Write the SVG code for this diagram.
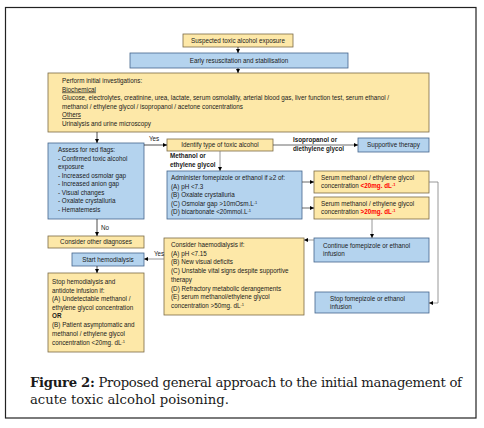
<svg xmlns="http://www.w3.org/2000/svg" width="484" height="428" viewBox="0 0 484 428">
<defs>
<marker id="ah" markerWidth="4" markerHeight="4" refX="4" refY="2" orient="auto" markerUnits="userSpaceOnUse">
<path d="M0,0 L4,2 L0,4 Z" fill="#000"/>
</marker>
<style>
.y{fill:#FDE8A8;stroke:#7A6A45;stroke-width:0.8}
.b{fill:#B4D3EE;stroke:#44658C;stroke-width:0.8}
.t{font-family:"Liberation Sans","Open Sans",sans-serif;font-size:6.3px;fill:#1a1a1a}
.bd{font-weight:bold}
.r{fill:#FF0000;font-weight:bold}
.c{stroke:#7f7f7f;stroke-width:0.8;fill:none;marker-end:url(#ah)}
.cap{font-family:"DejaVu Serif","Liberation Serif",serif;font-size:13.2px;fill:#1a1a1a}
</style>
</defs>
<rect x="0" y="0" width="484" height="428" fill="#fff"/>
<rect x="5.5" y="7.5" width="470.5" height="410.5" fill="none" stroke="#222" stroke-width="1.2"/>

<g id="n-suspected"><rect class="y" x="183" y="34" width="110" height="13"/><text class="t" x="238" y="42.7" text-anchor="middle">Suspected toxic alcohol exposure</text></g>
<g id="n-early"><rect class="b" x="130" y="53" width="218" height="15"/><text class="t" x="239" y="62.7" text-anchor="middle">Early resuscitation and stabilisation</text></g>
<g id="n-invest"><rect class="y" x="48" y="73" width="381" height="59"/>
<text class="t" x="62" y="83">Perform initial investigations:</text>
<text class="t" x="62" y="91.5" text-decoration="underline">Biochemical</text>
<text class="t" x="62" y="100">Glucose, electrolytes, creatinine, urea, lactate, serum osmolality, arterial blood gas, liver function test, serum ethanol /</text>
<text class="t" x="62" y="108.5">methanol / ethylene glycol / isopropanol / acetone concentrations</text>
<text class="t" x="62" y="117" text-decoration="underline">Others</text>
<text class="t" x="62" y="125.5">Urinalysis and urine microscopy</text>
</g>
<g id="n-assess"><rect class="b" x="48" y="143" width="96" height="76"/>
<text class="t" x="58" y="152">Assess for red flags:</text>
<text class="t" x="58" y="160.5">- Confirmed toxic alcohol</text>
<text class="t" x="58" y="169">exposure</text>
<text class="t" x="58" y="177.5">- Increased osmolar gap</text>
<text class="t" x="58" y="186">- Increased anion gap</text>
<text class="t" x="58" y="194.5">- Visual changes</text>
<text class="t" x="58" y="203">- Oxalate crystalluria</text>
<text class="t" x="58" y="211.5">- Hematemesis</text>
</g>
<g id="n-identify"><rect class="y" x="167" y="139" width="106" height="12"/><text class="t" x="220" y="147.2" text-anchor="middle">Identify type of toxic alcohol</text></g>
<g id="n-supportive"><rect class="b" x="358" y="138" width="71" height="14"/><text class="t" x="393.5" y="147.2" text-anchor="middle">Supportive therapy</text></g>
<g id="n-administer"><rect class="b" x="167" y="171" width="135" height="48"/>
<text class="t" x="171" y="180">Administer fomepizole or ethanol if ≥2 of:</text>
<text class="t" x="171" y="188.5">(A) pH &lt;7.3</text>
<text class="t" x="171" y="197">(B) Oxalate crystalluria</text>
<text class="t" x="171" y="205.5">(C) Osmolar gap &gt;10mOsm.L<tspan dy="-2" font-size="4">-1</tspan></text>
<text class="t" x="171" y="214">(D) bicarbonate &lt;20mmol.L<tspan dy="-2" font-size="4">-1</tspan></text>
</g>
<g id="n-serum-low"><rect class="y" x="314" y="171" width="115" height="22"/>
<text class="t" x="321" y="179.5">Serum methanol / ethylene glycol</text>
<text class="t" x="321" y="188">concentration <tspan class="r">&lt;20mg. dL<tspan dy="-2" font-size="4">-1</tspan></tspan></text>
</g>
<g id="n-serum-high"><rect class="y" x="314" y="197" width="115" height="22"/>
<text class="t" x="321" y="205.5">Serum methanol / ethylene glycol</text>
<text class="t" x="321" y="214">concentration <tspan class="r">&gt;20mg. dL<tspan dy="-2" font-size="4">-1</tspan></tspan></text>
</g>
<g id="n-other"><rect class="y" x="48" y="236" width="96" height="12"/><text class="t" x="96" y="244.2" text-anchor="middle">Consider other diagnoses</text></g>
<g id="n-continue"><rect class="b" x="314" y="238" width="115" height="24"/>
<text class="t" x="323" y="247.5">Continue fomepizole or ethanol</text>
<text class="t" x="323" y="256">infusion</text>
</g>
<g id="n-haemo"><rect class="y" x="164" y="238" width="140" height="77"/>
<text class="t" x="171" y="247">Consider haemodialysis if:</text>
<text class="t" x="171" y="255.7">(A) pH &lt;7.15</text>
<text class="t" x="171" y="264.4">(B) New visual deficits</text>
<text class="t" x="171" y="273.1">(C) Unstable vital signs despite supportive</text>
<text class="t" x="171" y="281.8">therapy</text>
<text class="t" x="171" y="290.5">(D) Refractory metabolic derangements</text>
<text class="t" x="171" y="299.2">(E) serum methanol/ethylene glycol</text>
<text class="t" x="171" y="307.9">concentration &gt;50mg. dL<tspan dy="-2" font-size="4">-1</tspan></text>
</g>
<g id="n-start"><rect class="b" x="72" y="253" width="72" height="13"/><text class="t" x="108" y="261.7" text-anchor="middle">Start hemodialysis</text></g>
<g id="n-stophd"><rect class="y" x="48" y="273" width="96" height="79"/>
<text class="t" x="52" y="284">Stop hemodialysis and</text>
<text class="t" x="52" y="292.5">antidote infusion if:</text>
<text class="t" x="52" y="301">(A) Undetectable methanol /</text>
<text class="t" x="52" y="309.5">ethylene glycol concentration</text>
<text class="t bd" x="52" y="318">OR</text>
<text class="t" x="52" y="327">(B) Patient asymptomatic and</text>
<text class="t" x="52" y="335.5">methanol / ethylene glycol</text>
<text class="t" x="52" y="344.5">concentration &lt;20mg. dL<tspan dy="-2" font-size="4">-1</tspan></text>
</g>
<g id="n-stopfom"><rect class="b" x="315" y="292" width="114" height="21"/>
<text class="t" x="330" y="300.5">Stop fomepizole or ethanol</text>
<text class="t" x="330" y="309">infusion</text>
</g>

<g id="connectors">
<path class="c" d="M238,47 V53" style="stroke:#222"/>
<path class="c" d="M238,68 V73" style="stroke:#222"/>
<path class="c" d="M97,132 V143" style="stroke:#222"/>
<path class="c" d="M144,145 H167" style="stroke:#222"/>
<path class="c" d="M220,151 V171"/>
<path class="c" d="M273,145 H358" style="stroke:#444"/>
<path class="c" d="M302,182 H314" style="stroke:#444"/>
<path class="c" d="M302,208 H314" style="stroke:#444"/>
<path class="c" d="M372,219 V238"/>
<path class="c" d="M429,182 H438 V303 H429"/>
<path class="c" d="M314,240 H304"/>
<path class="c" d="M97,219 V236" style="stroke:#222"/>
<path class="c" d="M164,259 H144"/>
<path class="c" d="M97,266 V273" style="stroke:#222"/>
<text class="t" x="149" y="141" font-size="5px">Yes</text>
<text class="t bd" x="170" y="158">Methanol or</text>
<text class="t bd" x="170" y="167">ethylene glycol</text>
<text class="t bd" x="293" y="142">Isopropanol or</text>
<text class="t bd" x="293" y="150.5">diethylene glycol</text>
<text class="t" x="101" y="230">No</text>
<text class="t" x="154" y="256" font-size="5px">Yes</text>
</g>

<text class="cap" x="30" y="387" textLength="432" lengthAdjust="spacing"><tspan font-weight="bold">Figure 2:</tspan> Proposed general approach to the initial management of</text>
<text class="cap" x="30" y="404">acute toxic alcohol poisoning.</text>
</svg>
